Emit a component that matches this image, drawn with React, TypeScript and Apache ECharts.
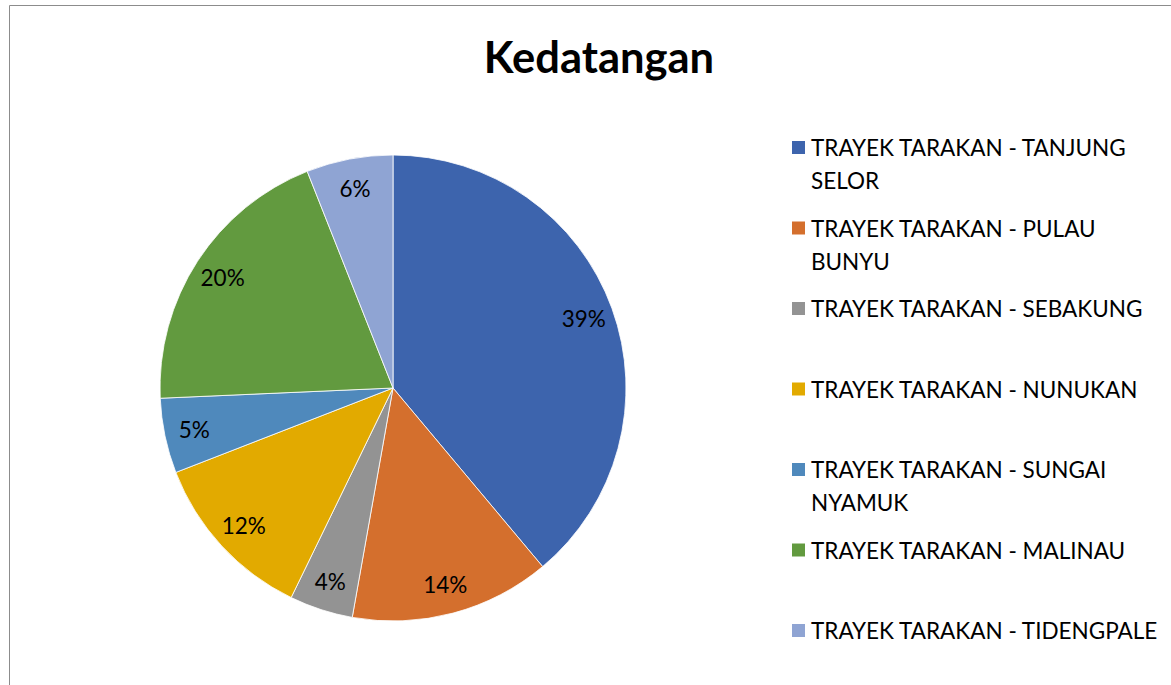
import React, { useEffect, useRef } from "react";
import * as echarts from "echarts";

const categories = [
  "TRAYEK TARAKAN - TANJUNG SELOR",
  "TRAYEK TARAKAN - PULAU BUNYU",
  "TRAYEK TARAKAN - SEBAKUNG",
  "TRAYEK TARAKAN - NUNUKAN",
  "TRAYEK TARAKAN - SUNGAI NYAMUK",
  "TRAYEK TARAKAN - MALINAU",
  "TRAYEK TARAKAN - TIDENGPALE",
];
const values = [38.9, 13.9, 4.4, 11.9, 5.2, 19.7, 6.0];
const colors = ["#3D64AD", "#D46F2D", "#939393", "#E2AA00", "#4F89BC", "#629A3F", "#8FA4D3"];
const titleText = "Kedatangan";

const FONT = "Lato, 'Open Sans', sans-serif";
const LEGEND_FS = 22.5;
const LH = 33;
const MAX_CHARS = 27;

function wrapName(name: string): string[] {
  if (name.length <= MAX_CHARS) return [name];
  const idx = name.lastIndexOf(" ");
  return [name.slice(0, idx), name.slice(idx + 1)];
}

export default function App() {
  const ref = useRef<HTMLDivElement>(null);
  useEffect(() => {
    if (!ref.current) return;
    const chart = echarts.init(ref.current, undefined, { renderer: "svg" });
    const data = categories.map((n, i) => ({ name: n, value: values[i], itemStyle: { color: colors[i] } }));
    const legendTop0 = 147.5;
    const legendStep = 80.5;
    const SQ = 15;
    const tallH = SQ + (LH * 2) / 1; // icon box so that the square sits by the first line
    const legends = categories.map((n, i) => {
      const lines = wrapName(n).length;
      const center = legendTop0 + i * legendStep;
      const twoLine = lines > 1;
      const iconH = twoLine ? 2 * (SQ / 2 + LH / 2) : SQ;
      return {
        show: true,
        orient: "vertical",
        left: 790,
        top: center - SQ / 2 - (twoLine ? (LH * 2 - iconH) / 2 : (LH - SQ) / 2),
        padding: 0,
        itemWidth: SQ,
        itemHeight: iconH,
        icon: twoLine ? `path://M0 0H${SQ}V${SQ}H0Z M0 ${iconH}L0.001 ${iconH}` : "rect",
        selectedMode: false,
        data: [n],
        formatter: (name: string) => wrapName(name).join("\n"),
        textStyle: {
          fontFamily: FONT,
          fontSize: LEGEND_FS,
          lineHeight: LH,
          color: "#000",
        },
      };
    });
    void tallH;
    chart.setOption({
      animation: false,
      backgroundColor: "#fff",
      title: {
        text: titleText,
        left: 594,
        top: 29,
        textAlign: "center",
        textStyle: { fontFamily: FONT, fontWeight: "bold", fontSize: 43.5, color: "#000" },
      },
      legend: legends,
      graphic: [
        {
          type: "rect",
          shape: { x: 9.5, y: 5.5, width: 1200, height: 720 },
          style: { fill: "none", stroke: "#8c8c8c", lineWidth: 1 },
          silent: true,
          z: -10,
        },
      ],
      series: [
        {
          type: "pie",
          center: [393, 388],
          radius: [0, 233],
          startAngle: 90,
          clockwise: true,
          percentPrecision: 0,
          data,
          label: { show: false },
          labelLine: { show: false },
          itemStyle: { borderColor: "#ffffff", borderWidth: 0.8 },
          emphasis: { disabled: true },
        },
        {
          type: "pie",
          center: [393, 388],
          radius: [167, 233],
          startAngle: 90,
          clockwise: true,
          percentPrecision: 0,
          silent: true,
          legendHoverLink: false,
          data: categories.map((n, i) => ({ name: n, value: values[i] })),
          itemStyle: { color: "rgba(0,0,0,0)" },
          label: {
            show: true,
            position: "inside",
            formatter: "{d}%",
            fontFamily: FONT,
            fontSize: LEGEND_FS,
            color: "#000",
          },
          labelLine: { show: false },
          emphasis: { disabled: true },
          z: 3,
        },
      ],
    });
    return () => chart.dispose();
  }, []);
  return (
    <div
      ref={ref}
      style={{ position: "fixed", left: 0, top: 0, width: 1171, height: 685, background: "#fff" }}
    />
  );
}
